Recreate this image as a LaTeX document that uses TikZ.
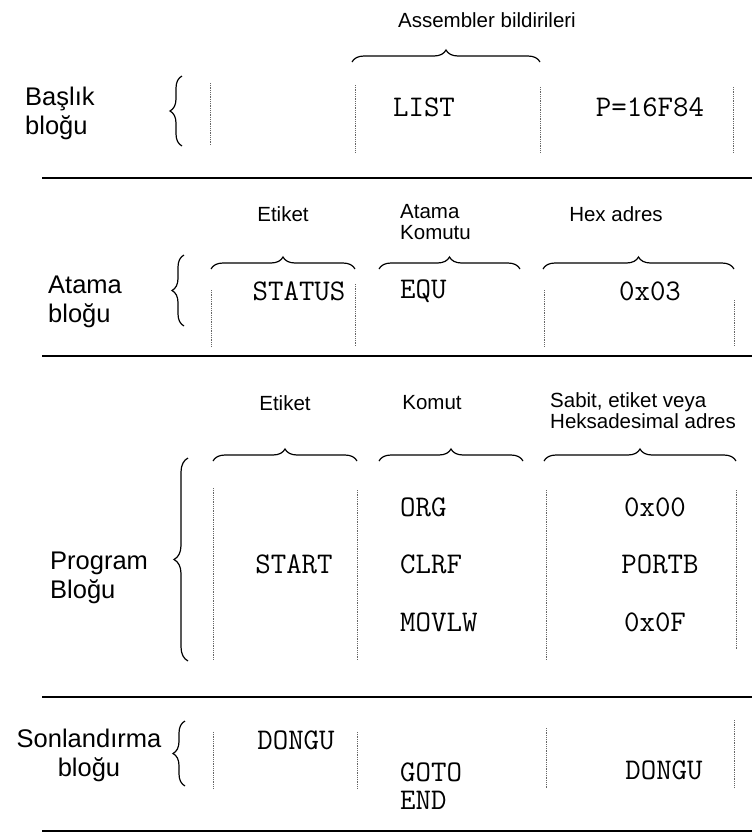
\documentclass[tikz,border=0pt]{standalone}
\usepackage{fontspec}
\usepackage{tikz}
\usetikzlibrary{decorations.pathreplacing}
\newfontfamily\lblfont{Liberation Sans}
\tikzset{
  blk/.style ={font=\lblfont\fontsize{25.5}{29}\selectfont,align=left,inner sep=0pt,anchor=west},
  hdr/.style ={font=\lblfont\fontsize{20.5}{21}\selectfont,align=left,inner sep=0pt},
  kod/.style ={font=\ttfamily\fontsize{30}{28}\selectfont,inner sep=0pt},
  rule/.style={line width=2.4pt},
  kol/.style ={densely dotted,line width=0.8pt,black!60},
  brc/.style ={decorate,decoration={brace,amplitude=12pt},line width=1.2pt},
}
\begin{document}
\begin{tikzpicture}[x=1pt,y=-1pt]
  \useasboundingbox (0,0) rectangle (752,836);
  % Baslik blogu
  \node[hdr] (asm) at (487,20){Assembler bildirileri};
  \node[blk] (bas) at (25,113){Başlık\\bloğu};
  \node[kod] (list) at (424,107){LIST};
  \node[kod] (p) at (650,107){P=16F84};
  \draw[brc] (352,62) -- (540,62);
  \draw[brc] (182,146) -- (182,76);
  \foreach \x/\a/\b in {210/83/145,355/85/153,540/87/153,733/87/153}
    \draw[kol] (\x,\a) -- (\x,\b);
  \draw[rule] (42,178) -- (752,178);
  % Atama blogu
  \node[hdr] (et1) at (283,214){Etiket};
  \node[hdr,anchor=north west] (atk) at (400,204){Atama\\Komutu};
  \node[hdr] (hex) at (616,214){Hex adres};
  \node[blk] (ata) at (48,302){Atama\\bloğu};
  \node[kod] (status) at (299,291){STATUS};
  \node[kod,anchor=west] (equ) at (400,291){EQU};
  \node[kod] (h03) at (650,291){0x03};
  \draw[brc] (211,269) -- (355,269);
  \draw[brc] (379,269) -- (520,269);
  \draw[brc] (543,269) -- (734,269);
  \draw[brc] (184,326) -- (184,255);
  \foreach \x/\a/\b in {211/290/346,355/284/346,544/290/346,734/300/346}
    \draw[kol] (\x,\a) -- (\x,\b);
  \draw[rule] (42,356) -- (752,356);
  % Program blogu
  \node[hdr] (et2) at (285,403){Etiket};
  \node[hdr] (kom) at (432,403){Komut};
  \node[hdr,anchor=north west] (sab) at (550,392){Sabit, etiket veya\\Heksadesimal adres};
  \node[blk] (prg) at (50,578){Program\\Bloğu};
  \node[kod] (start) at (294,564){START};
  \node[kod,anchor=west] (org) at (400,507){ORG};
  \node[kod,anchor=west] (clrf) at (400,564){CLRF};
  \node[kod,anchor=west] (movlw) at (400,622){MOVLW};
  \node[kod] (h00) at (655,507){0x00};
  \node[kod] (portb) at (660,564){PORTB};
  \node[kod] (h0f) at (655,622){0x0F};
  \draw[brc] (213,461) -- (357,461);
  \draw[brc] (379,461) -- (523,461);
  \draw[brc] (544,461) -- (736,461);
  \draw[brc,decoration={amplitude=14pt}] (188,661) -- (188,458);
  \foreach \x/\a/\b in {213/488/660,357/490/660,546/490/660,736/490/650}
    \draw[kol] (\x,\a) -- (\x,\b);
  \draw[rule] (42,697) -- (752,697);
  % Sonlandirma blogu
  \node[blk,align=center,anchor=center] (son) at (89,755){Sonlandırma\\bloğu};
  \node[kod] (dng1) at (296,740){DONGU};
  \node[kod,anchor=west] (goto) at (400,772){GOTO};
  \node[kod,anchor=west] (endk) at (400,800){END};
  \node[kod] (dng2) at (664,770){DONGU};
  \draw[brc] (185,786) -- (185,721);
  \foreach \x/\a/\b in {213/732/788,357/732/788,546/728/788,734/720/788}
    \draw[kol] (\x,\a) -- (\x,\b);
  \draw[rule] (42,831) -- (752,831);
\end{tikzpicture}
\end{document}
